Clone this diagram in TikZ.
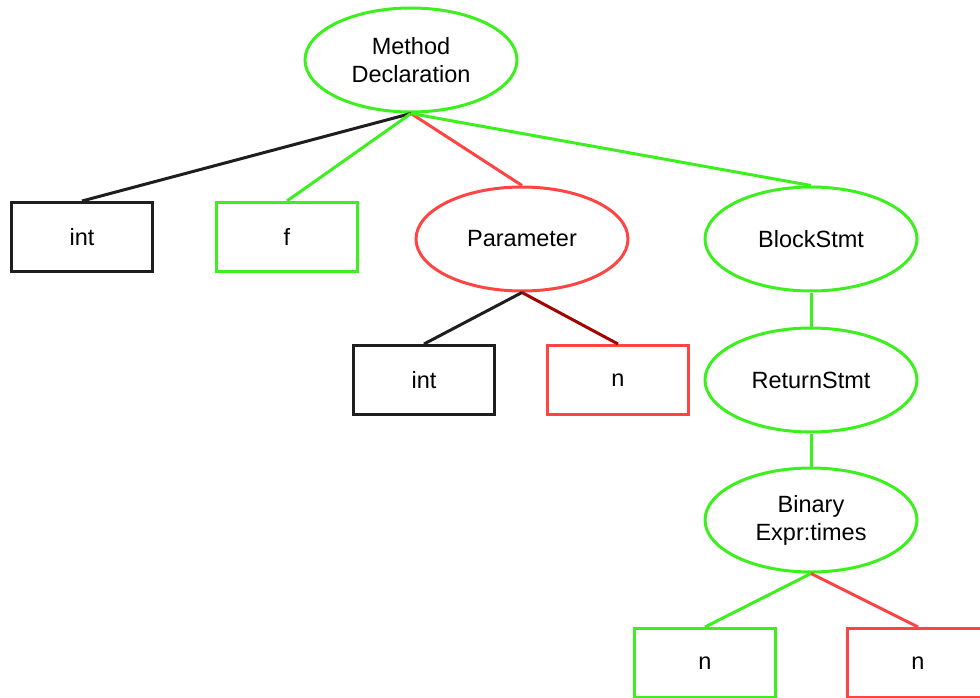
\documentclass[tikz,border=0pt]{standalone}
\usepackage{fontspec}
\setmainfont{Liberation Sans}
\usetikzlibrary{shapes.geometric}
\definecolor{gr}{RGB}{60,240,30}
\definecolor{rd}{RGB}{255,68,68}
\definecolor{drd}{RGB}{165,0,0}
\definecolor{bk}{RGB}{30,30,30}
\tikzset{
  ell/.style={ellipse, draw, line width=3pt, minimum width=212pt, minimum height=104pt, inner sep=0pt, align=center, font=\fontsize{23.5}{28}\selectfont},
  box/.style={rectangle, draw, line width=3pt, minimum width=141pt, minimum height=69pt, inner sep=0pt, font=\fontsize{23.5}{28}\selectfont},
  edge/.style={line width=3pt}
}
\begin{document}
\begin{tikzpicture}[x=1pt,y=-1pt]
\useasboundingbox (0,0) rectangle (980,698);
\clip (0,0) rectangle (980,698);
\node[ell, gr] (md) at (411,60) {\textcolor{black}{Method}\\\textcolor{black}{Declaration}};
\node[box, bk] (int1) at (82,237) {\textcolor{black}{int}};
\node[box, gr] (f) at (287,237) {\textcolor{black}{f}};
\node[ell, rd] (par) at (522,239) {\textcolor{black}{Parameter}};
\node[ell, gr] (blk) at (811,239) {\textcolor{black}{BlockStmt}};
\node[box, bk] (int2) at (424,380) {\textcolor{black}{int}};
\node[box, rd] (n1) at (618,380) {\textcolor{black}{n}};
\node[ell, gr] (ret) at (811,380) {\textcolor{black}{ReturnStmt}};
\node[ell, gr] (bin) at (811,520) {\textcolor{black}{Binary}\\\textcolor{black}{Expr:times}};
\node[box, gr] (n2) at (705,663) {\textcolor{black}{n}};
\node[box, rd] (n3) at (918,663) {\textcolor{black}{n}};
\draw[edge, bk] (md.south) -- (int1.north);
\draw[edge, gr] (md.south) -- (f.north);
\draw[edge, rd] (md.south) -- (par.north);
\draw[edge, gr] (md.south) -- (blk.north);
\draw[edge, bk] (par.south) -- (int2.north);
\draw[edge, drd] (par.south) -- (n1.north);
\draw[edge, gr] (blk.south) -- (ret.north);
\draw[edge, gr] (ret.south) -- (bin.north);
\draw[edge, gr] (bin.south) -- (n2.north);
\draw[edge, rd] (bin.south) -- (n3.north);
\end{tikzpicture}
\end{document}
